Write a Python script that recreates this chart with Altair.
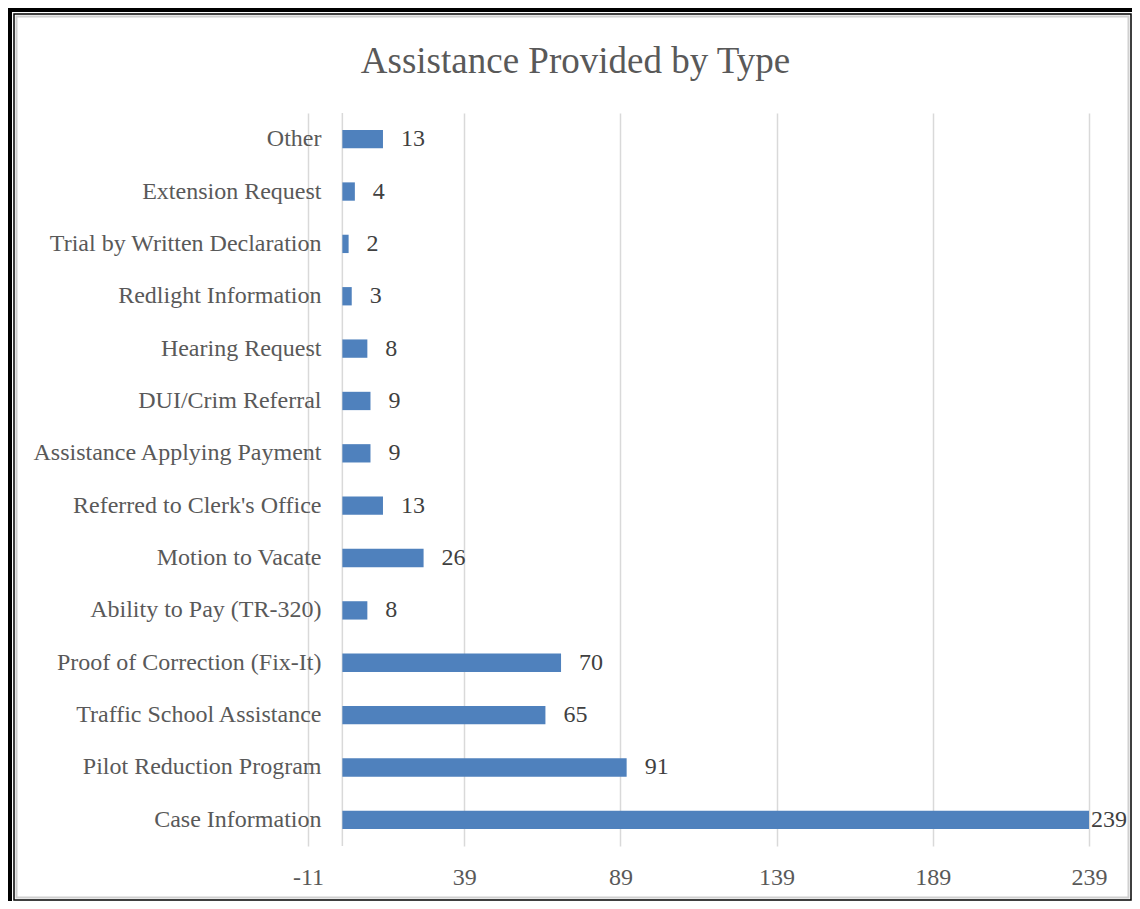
import altair as alt
import pandas as pd

categories = [
    "Other",
    "Extension Request",
    "Trial by Written Declaration",
    "Redlight Information",
    "Hearing Request",
    "DUI/Crim Referral",
    "Assistance Applying Payment",
    "Referred to Clerk's Office",
    "Motion to Vacate",
    "Ability to Pay (TR-320)",
    "Proof of Correction (Fix-It)",
    "Traffic School Assistance",
    "Pilot Reduction Program",
    "Case Information",
]
values = [13, 4, 2, 3, 8, 9, 9, 13, 26, 8, 70, 65, 91, 239]
tick_values = [-11, 39, 89, 139, 189, 239]
title_text = "Assistance Provided by Type"

df = pd.DataFrame({"category": categories, "value": values})

FONT = "Liberation Serif"
W, H = 781, 733
PL, PT = 300, 105
TOTAL_W, TOTAL_H = 1124, 893

x_scale = alt.Scale(domain=[-11, 239], nice=False, zero=False)
y_scale = alt.Scale(domain=categories, paddingInner=0.65, paddingOuter=0.325)

base = alt.Chart(df)

bars = base.mark_bar(color="#4F81BD").encode(
    x=alt.X(
        "value:Q",
        scale=x_scale,
        axis=alt.Axis(
            values=tick_values,
            title=None,
            grid=True,
            gridColor="#d9d9d9",
            gridWidth=1.5,
            domain=False,
            ticks=False,
            labelFont=FONT,
            labelFontSize=24,
            labelColor="#595959",
            labelPadding=19,
            labelFlush=False,
            labelExpr="'' + datum.value",
        ),
    ),
    x2=alt.datum(0),
    y=alt.Y(
        "category:N",
        scale=y_scale,
        sort=categories,
        axis=alt.Axis(
            title=None,
            domain=False,
            ticks=False,
            grid=False,
            labelFont=FONT,
            labelFontSize=24,
            labelColor="#595959",
            labelPadding=-13,
            labelLimit=400,
        ),
    ),
)

zero_rule = alt.Chart(alt.Data(values=[{"z": 0}])).mark_rule(
    color="#d9d9d9", strokeWidth=1.5
).encode(x=alt.X("z:Q", scale=x_scale), y=alt.value(0), y2=alt.value(H))

labels_small = base.transform_filter("datum.value < 200").mark_text(
    align="left", baseline="middle", dx=18, font=FONT, fontSize=24, color="#404040"
).encode(
    x=alt.X("value:Q", scale=x_scale),
    y=alt.Y("category:N", scale=y_scale, sort=categories),
    text=alt.Text("value:Q"),
)

labels_big = base.transform_filter("datum.value >= 200").mark_text(
    align="left", baseline="middle", dx=2, font=FONT, fontSize=24, color="#404040"
).encode(
    x=alt.X("value:Q", scale=x_scale),
    y=alt.Y("category:N", scale=y_scale, sort=categories),
    text=alt.Text("value:Q"),
)

one = alt.Data(values=[{"t": title_text}])

title = alt.Chart(one).mark_text(
    align="center", baseline="middle", font=FONT, fontSize=37, color="#595959"
).encode(x=alt.value(267.5), y=alt.value(-51), text="t:N")

# frame decorations (pixel positions relative to plot area)
black_left = alt.Chart(one).mark_rect(color="black").encode(
    x=alt.value(-PL), x2=alt.value(-PL + 4), y=alt.value(-PT), y2=alt.value(TOTAL_H - PT)
)
black_top = alt.Chart(one).mark_rect(color="black").encode(
    x=alt.value(-PL), x2=alt.value(TOTAL_W - PL), y=alt.value(-PT), y2=alt.value(-PT + 4)
)
frame_black = alt.Chart(one).mark_rect(
    fillOpacity=0, stroke="black", strokeWidth=1.5
).encode(
    x=alt.value(-PL + 6), x2=alt.value(TOTAL_W - PL - 1),
    y=alt.value(-PT + 6), y2=alt.value(TOTAL_H - PT - 1),
)
frame_gray = alt.Chart(one).mark_rect(
    fillOpacity=0, stroke="#d0d0d0", strokeWidth=2
).encode(
    x=alt.value(-PL + 8.5), x2=alt.value(TOTAL_W - PL - 3.5),
    y=alt.value(-PT + 8.5), y2=alt.value(TOTAL_H - PT - 3.5),
)

chart = alt.layer(
    zero_rule, bars, labels_small, labels_big, title,
    black_left, black_top, frame_black, frame_gray,
).properties(
    width=W,
    height=H,
    autosize=alt.AutoSizeParams(type="none"),
    padding={"left": PL, "top": PT, "right": TOTAL_W - PL - W, "bottom": TOTAL_H - PT - H},
    background="white",
).configure_view(stroke=None)

chart.save("out.html", embed_options={"renderer": "svg", "actions": False})
